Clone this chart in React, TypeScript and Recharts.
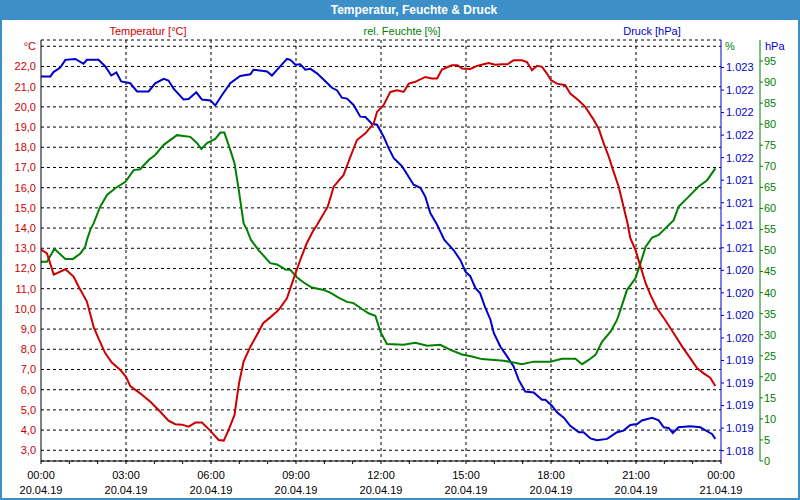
import React from 'react';
import { LineChart, Line, XAxis, YAxis, CartesianGrid } from 'recharts';

// hours of the day, 0 = 20.04.19 00:00
const hourTicks = [0, 1, 2, 3, 4, 5, 6, 7, 8, 9, 10, 11, 12, 13, 14, 15, 16, 17, 18, 19, 20, 21, 22, 23, 24];
const gridHours = [3, 6, 9, 12, 15, 18, 21];
const timeLabels = ['00:00', '03:00', '06:00', '09:00', '12:00', '15:00', '18:00', '21:00', '00:00'];
const dateLabels = ['20.04.19', '20.04.19', '20.04.19', '20.04.19', '20.04.19', '20.04.19', '20.04.19', '20.04.19', '21.04.19'];

const tempTicks = [3, 4, 5, 6, 7, 8, 9, 10, 11, 12, 13, 14, 15, 16, 17, 18, 19, 20, 21, 22, 23];
const humidityTicks = [0, 5, 10, 15, 20, 25, 30, 35, 40, 45, 50, 55, 60, 65, 70, 75, 80, 85, 90, 95];
const pressureTicks = [
  1018.375, 1018.625, 1018.875, 1019.125, 1019.375, 1019.625, 1019.875, 1020.125, 1020.375,
  1020.625, 1020.875, 1021.125, 1021.375, 1021.625, 1021.875, 1022.125, 1022.375, 1022.625,
];

// [hour, °C]
const temperature: [number, number][] = [
  [0, 12.94], [0.21, 12.75], [0.45, 11.7], [0.86, 11.96], [1.15, 11.6], [1.33, 11.1], [1.62, 10.36],
  [1.86, 9.1], [2.03, 8.54], [2.27, 7.8], [2.5, 7.34], [2.8, 6.98], [3.0, 6.64], [3.15, 6.18],
  [3.5, 5.82], [3.86, 5.4], [4.21, 4.91], [4.5, 4.47], [4.74, 4.29], [4.98, 4.27], [5.21, 4.17],
  [5.45, 4.37], [5.68, 4.37], [5.98, 3.96], [6.27, 3.51], [6.45, 3.48], [6.62, 4.0], [6.83, 4.75],
  [6.92, 5.66], [7.0, 6.4], [7.15, 7.39], [7.39, 8.13], [7.62, 8.71], [7.84, 9.29], [8.09, 9.58],
  [8.39, 9.95], [8.68, 10.52], [8.92, 11.51], [9.15, 12.42], [9.38, 13.25], [9.62, 13.9],
  [9.74, 14.15], [10.12, 15.06], [10.33, 16.05], [10.68, 16.63], [10.92, 17.53], [11.15, 18.36],
  [11.45, 18.69], [11.74, 19.18], [11.86, 19.75], [12.09, 20.08], [12.33, 20.74], [12.57, 20.82],
  [12.8, 20.74], [12.98, 21.15], [13.21, 21.24], [13.56, 21.48], [13.8, 21.4], [13.98, 21.4],
  [14.15, 21.85], [14.5, 22.06], [14.7, 22.06], [14.86, 21.9], [15.15, 21.88], [15.39, 22.03],
  [15.62, 22.11], [15.8, 22.17], [16.03, 22.09], [16.27, 22.11], [16.47, 22.11], [16.68, 22.31],
  [16.97, 22.31], [17.15, 22.22], [17.33, 21.81], [17.51, 22.03], [17.68, 21.98], [17.86, 21.65],
  [18.0, 21.32], [18.21, 21.15], [18.5, 21.07], [18.68, 20.66], [18.97, 20.33], [19.21, 20.0],
  [19.48, 19.42], [19.68, 18.93], [19.86, 18.19], [20.04, 17.53], [20.19, 16.87], [20.39, 16.05],
  [20.56, 15.06], [20.7, 14.24], [20.8, 13.5], [20.98, 12.92], [21.16, 12.09], [21.34, 11.27],
  [21.51, 10.69], [21.74, 10.03], [22.03, 9.45], [22.33, 8.79], [22.63, 8.13], [22.92, 7.55],
  [23.16, 7.06], [23.39, 6.81], [23.62, 6.59], [23.8, 6.18],
];

// [hour, %]
const humidity: [number, number][] = [
  [0, 47.3], [0.21, 47.3], [0.47, 50.4], [0.86, 48.0], [1.13, 48.0], [1.39, 49.3], [1.56, 50.9],
  [1.62, 52.5], [1.74, 54.9], [1.86, 56.5], [2.09, 60.4], [2.33, 63.2], [2.62, 64.8], [2.98, 66.3],
  [3.27, 69.1], [3.5, 69.3], [3.8, 71.5], [4.03, 72.7], [4.33, 75.1], [4.8, 77.4], [5.27, 77.0],
  [5.51, 75.5], [5.66, 74.1], [5.86, 75.5], [6.15, 76.5], [6.33, 78.0], [6.47, 78.0], [6.68, 73.9],
  [6.83, 70.7], [6.98, 64.4], [7.15, 56.5], [7.27, 54.9], [7.41, 52.5], [7.68, 50.1], [8.09, 47.0],
  [8.33, 46.7], [8.62, 45.5], [8.8, 45.4], [9.04, 43.6], [9.27, 42.4], [9.56, 41.2], [9.98, 40.6],
  [10.21, 40.0], [10.5, 38.8], [10.8, 37.8], [11.03, 37.5], [11.33, 36.1], [11.56, 35.1],
  [11.8, 34.5], [11.98, 30.7], [12.21, 27.8], [12.8, 27.6], [13.21, 28.1], [13.63, 27.4],
  [14.09, 27.6], [14.45, 26.4], [14.86, 25.3], [15.21, 24.8], [15.56, 24.2], [16.33, 23.8],
  [16.68, 23.4], [16.97, 23.0], [17.39, 23.6], [17.98, 23.6], [18.39, 24.3], [18.86, 24.3],
  [19.1, 23.0], [19.33, 24.0], [19.57, 25.2], [19.8, 28.3], [20.1, 30.7], [20.33, 33.5],
  [20.51, 37.1], [20.68, 40.6], [20.98, 43.4], [21.16, 47.0], [21.34, 50.9], [21.57, 53.1],
  [21.8, 53.7], [21.98, 54.9], [22.33, 57.2], [22.5, 60.4], [22.86, 62.8], [23.21, 65.2],
  [23.51, 66.7], [23.8, 69.5],
];

// [hour, hPa]
const pressure: [number, number][] = [
  [0, 1022.525], [0.33, 1022.525], [0.44, 1022.574], [0.68, 1022.625], [0.86, 1022.71],
  [1.21, 1022.72], [1.5, 1022.666], [1.62, 1022.71], [2.03, 1022.71], [2.27, 1022.636],
  [2.48, 1022.536], [2.66, 1022.57], [2.83, 1022.47], [3.15, 1022.45], [3.39, 1022.36],
  [3.8, 1022.36], [4.03, 1022.45], [4.33, 1022.5], [4.5, 1022.48], [4.68, 1022.39], [5.03, 1022.27],
  [5.21, 1022.275], [5.48, 1022.35], [5.68, 1022.27], [5.98, 1022.26], [6.15, 1022.204],
  [6.39, 1022.32], [6.68, 1022.45], [7.03, 1022.53], [7.39, 1022.55], [7.5, 1022.6], [7.98, 1022.58],
  [8.15, 1022.536], [8.45, 1022.64], [8.68, 1022.72], [8.8, 1022.71], [8.98, 1022.655],
  [9.15, 1022.66], [9.33, 1022.6], [9.51, 1022.61], [9.74, 1022.56], [9.98, 1022.49], [10.27, 1022.4],
  [10.45, 1022.37], [10.62, 1022.29], [10.8, 1022.28], [11.03, 1022.21], [11.27, 1022.08],
  [11.45, 1022.075], [11.68, 1022.0], [11.86, 1021.99], [12.09, 1021.86], [12.27, 1021.73],
  [12.45, 1021.62], [12.74, 1021.53], [12.92, 1021.44], [13.15, 1021.325], [13.39, 1021.29],
  [13.56, 1021.195], [13.74, 1021.01], [13.98, 1020.88], [14.23, 1020.715], [14.33, 1020.68],
  [14.56, 1020.6], [14.8, 1020.49], [14.98, 1020.36], [15.15, 1020.31], [15.33, 1020.18],
  [15.5, 1020.12], [15.68, 1019.96], [15.86, 1019.83], [15.98, 1019.68], [16.21, 1019.53],
  [16.45, 1019.42], [16.68, 1019.31], [16.86, 1019.16], [17.09, 1019.03], [17.39, 1019.02],
  [17.68, 1018.94], [17.8, 1018.94], [18.04, 1018.87], [18.21, 1018.8], [18.45, 1018.74],
  [18.68, 1018.65], [18.98, 1018.58], [19.15, 1018.58], [19.39, 1018.51], [19.62, 1018.49],
  [19.98, 1018.505], [20.33, 1018.58], [20.56, 1018.597], [20.8, 1018.66], [21.04, 1018.67],
  [21.21, 1018.71], [21.57, 1018.74], [21.8, 1018.71], [21.98, 1018.634], [22.15, 1018.627],
  [22.3, 1018.57], [22.5, 1018.634], [22.92, 1018.645], [23.27, 1018.634], [23.51, 1018.59],
  [23.68, 1018.56], [23.8, 1018.505],
];

const RED = '#cc0000';
const GREEN = '#008000';
const BLUE = '#0000cc';
const FRAME = '#3d8fc7';
const FONT = '"Liberation Sans", Arial, sans-serif';

const toRows = (pts: [number, number][]) => pts.map(([h, v]) => ({ h, v }));

const fmtTemp = (v: number) => (v === 23 ? '°C' : v.toFixed(1).replace('.', ','));
const fmtPressure = (v: number) => {
  const n = Math.round(v);
  return `${Math.floor(n / 1000)}.${String(n % 1000).padStart(3, '0')}`;
};

const TimeTick = ({ x, y, payload }: any) => {
  const h = payload.value;
  if (h % 3 !== 0) return null;
  const i = h / 3;
  return (
    <text x={x} y={y} textAnchor="middle" fontSize={11} fill="#000">
      <tspan x={x} dy={13}>{timeLabels[i]}</tspan>
      <tspan x={x} dy={15}>{dateLabels[i]}</tspan>
    </text>
  );
};

const abs = (left: number, top: number, extra: React.CSSProperties = {}): React.CSSProperties => ({
  position: 'absolute',
  left,
  top,
  whiteSpace: 'nowrap',
  fontSize: 11,
  lineHeight: '14px',
  ...extra,
});

export default function App() {
  return (
    <div style={{ position: 'absolute', left: 0, top: 0, width: 800, height: 500, background: '#fff', fontFamily: FONT }}>
      <LineChart width={800} height={500} margin={{ top: 40, right: 0, bottom: 0, left: 0 }}>
        <CartesianGrid
          yAxisId="t"
          stroke="#000"
          strokeDasharray="3 3"
          verticalValues={gridHours}
        />
        <XAxis
          dataKey="h"
          type="number"
          domain={[0, 24]}
          ticks={hourTicks}
          interval={0}
          height={39}
          tickSize={3}
          tickMargin={2}
          axisLine={{ stroke: '#000' }}
          tickLine={{ stroke: '#000' }}
          tick={<TimeTick />}
          allowDataOverflow
        />
        <XAxis
          xAxisId="top"
          orientation="top"
          type="number"
          domain={[0, 24]}
          height={0}
          tick={false}
          tickLine={false}
          axisLine={{ stroke: '#000' }}
        />
        <YAxis
          yAxisId="t"
          orientation="left"
          width={41}
          type="number"
          domain={[2.47, 23.31]}
          ticks={tempTicks}
          interval={0}
          tickFormatter={fmtTemp}
          tickLine={false}
          tickSize={0}
          tickMargin={5}
          axisLine={{ stroke: '#000' }}
          tick={{ fill: RED, fontSize: 11 }}
          allowDataOverflow
        />
        <YAxis
          yAxisId="rh"
          orientation="right"
          width={40}
          type="number"
          domain={[0, 100]}
          ticks={humidityTicks}
          interval={0}
          tickSize={3}
          tickMargin={1}
          axisLine={{ stroke: GREEN }}
          tickLine={{ stroke: GREEN }}
          tick={{ fill: GREEN, fontSize: 11 }}
          allowDataOverflow
        />
        <YAxis
          yAxisId="p"
          orientation="right"
          width={39}
          type="number"
          domain={[1018.26, 1022.93]}
          ticks={pressureTicks}
          interval={0}
          tickFormatter={fmtPressure}
          tickSize={3}
          tickMargin={2}
          axisLine={{ stroke: BLUE }}
          tickLine={{ stroke: BLUE }}
          tick={{ fill: BLUE, fontSize: 11 }}
          allowDataOverflow
        />
        <Line yAxisId="p" data={toRows(pressure)} dataKey="v" type="linear" stroke={BLUE} strokeWidth={2} dot={false} isAnimationActive={false} />
        <Line yAxisId="rh" data={toRows(humidity)} dataKey="v" type="linear" stroke={GREEN} strokeWidth={2} dot={false} isAnimationActive={false} />
        <Line yAxisId="t" data={toRows(temperature)} dataKey="v" type="linear" stroke={RED} strokeWidth={2} dot={false} isAnimationActive={false} />
      </LineChart>

      <div style={{ position: 'absolute', left: 0, top: 0, width: 800, height: 20, background: FRAME }} />
      <div style={abs(414, 3, { transform: 'translateX(-50%)', color: '#fff', fontWeight: 'bold', fontSize: 12 })}>
        Temperatur, Feuchte &amp; Druck
      </div>
      <div style={abs(148, 24, { transform: 'translateX(-50%)', color: RED })}>Temperatur [°C]</div>
      <div style={abs(402, 24, { transform: 'translateX(-50%)', color: GREEN })}>rel. Feuchte [%]</div>
      <div style={abs(652, 24, { transform: 'translateX(-50%)', color: BLUE })}>Druck [hPa]</div>
      <div style={abs(725, 39, { color: GREEN })}>%</div>
      <div style={abs(765, 39, { color: BLUE })}>hPa</div>
      <div
        style={{
          position: 'absolute',
          left: 0,
          top: 0,
          width: 800,
          height: 500,
          boxSizing: 'border-box',
          border: `2px solid ${FRAME}`,
          pointerEvents: 'none',
        }}
      />
    </div>
  );
}
